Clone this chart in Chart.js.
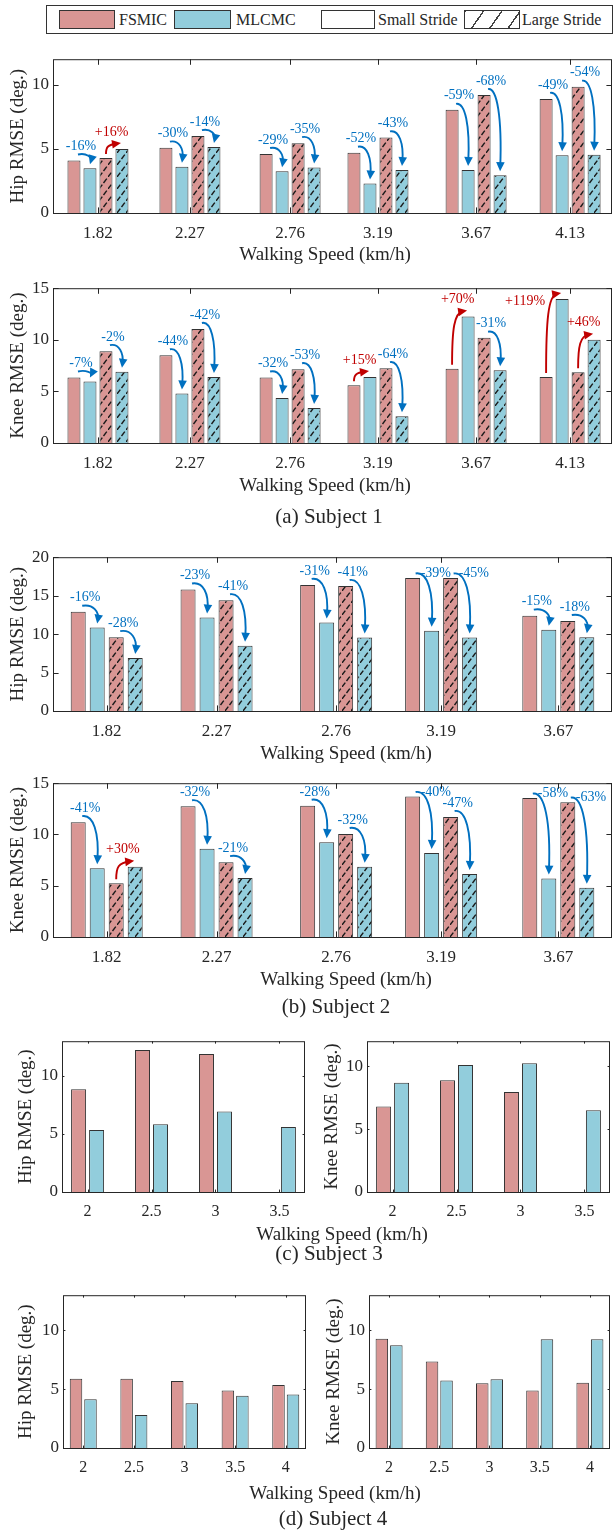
<!DOCTYPE html>
<html>
<head>
<meta charset="utf-8">
<script src="https://cdn.jsdelivr.net/npm/chart.js@4.4.0/dist/chart.umd.min.js"></script>
<style>
  body { margin: 0; background: #fff; }
  #fig { position: relative; width: 613px; height: 1531px; overflow: hidden;
         font-family: "Liberation Serif", "Times New Roman", serif; color: #262626; }
  #fig canvas { position: absolute; }
  .txt { position: absolute; white-space: nowrap; line-height: 1; transform: translate(-50%, -50%); }
  #legend { position: absolute; left: 46px; top: 5px; width: 565px; height: 27px; border: 1px solid #333; }
  .sw { position: absolute; top: 4px; height: 17px; border: 1px solid #333; }
  .lt { position: absolute; top: 4px; font-size: 16px; line-height: 19px; }
</style>
</head>
<body>
<div id="fig">
  <div id="legend">
    <div class="sw" style="left:12px;width:54px;background:#D99694"></div>
    <div class="lt" style="left:72px">FSMIC</div>
    <div class="sw" style="left:127px;width:55px;background:#92CDDC"></div>
    <div class="lt" style="left:189px">MLCMC</div>
    <div class="sw" style="left:274px;width:52px;background:#fff"></div>
    <div class="lt" style="left:331px">Small Stride</div>
    <div class="sw" style="left:417px;width:54px;background:repeating-linear-gradient(-55deg,#fff 0,#fff 8px,#444 8px,#444 9.5px,#fff 9.5px,#fff 15px)"></div>
    <div class="lt" style="left:475px">Large Stride</div>
  </div>
</div>
<script>
// ---- data ----
const s1Speeds = [1.82, 2.27, 2.76, 3.19, 3.67, 4.13];
const s1SpeedLabels = ['1.82', '2.27', '2.76', '3.19', '3.67', '4.13'];

const s1HipFsmicSmall = [4.1, 5.1, 4.6, 4.7, 8.05, 8.9];
const s1HipMlcmcSmall = [3.5, 3.6, 3.25, 2.3, 3.35, 4.5];
const s1HipFsmicLarge = [4.3, 6.0, 5.45, 5.9, 9.2, 9.85];
const s1HipMlcmcLarge = [5.0, 5.15, 3.55, 3.35, 2.95, 4.55];
const s1HipSmallChange = ['-16%', '-30%', '-29%', '-52%', '-59%', '-49%'];
const s1HipLargeChange = ['+16%', '-14%', '-35%', '-43%', '-68%', '-54%'];

const s1KneeFsmicSmall = [6.35, 8.5, 6.35, 5.6, 7.2, 6.4];
const s1KneeMlcmcSmall = [5.95, 4.8, 4.35, 6.4, 12.25, 13.95];
const s1KneeFsmicLarge = [8.9, 11.05, 7.15, 7.25, 10.2, 6.85];
const s1KneeMlcmcLarge = [6.9, 6.4, 3.4, 2.6, 7.05, 10.0];
const s1KneeSmallChange = ['-7%', '-44%', '-32%', '+15%', '+70%', '+119%'];
const s1KneeLargeChange = ['-2%', '-42%', '-53%', '-64%', '-31%', '+46%'];

const s2Speeds = [1.82, 2.27, 2.76, 3.19, 3.67];
const s2SpeedLabels = ['1.82', '2.27', '2.76', '3.19', '3.67'];

const s2HipFsmicSmall = [12.9, 15.8, 16.4, 17.3, 12.4];
const s2HipMlcmcSmall = [10.85, 12.15, 11.5, 10.45, 10.55];
const s2HipFsmicLarge = [9.6, 14.4, 16.25, 17.3, 11.7];
const s2HipMlcmcLarge = [6.9, 8.5, 9.55, 9.55, 9.6];
const s2HipSmallChange = ['-16%', '-23%', '-31%', '-39%', '-15%'];
const s2HipLargeChange = ['-28%', '-41%', '-41%', '-45%', '-18%'];

const s2KneeFsmicSmall = [11.2, 12.75, 12.8, 13.7, 13.55];
const s2KneeMlcmcSmall = [6.7, 8.6, 9.25, 8.2, 5.7];
const s2KneeFsmicLarge = [5.25, 7.3, 10.05, 11.7, 13.15];
const s2KneeMlcmcLarge = [6.85, 5.75, 6.85, 6.15, 4.8];
const s2KneeSmallChange = ['-41%', '-32%', '-28%', '-40%', '-58%'];
const s2KneeLargeChange = ['+30%', '-21%', '-32%', '-47%', '-63%'];

const s3Speeds = [2, 2.5, 3, 3.5];
const s3SpeedLabels = ['2', '2.5', '3', '3.5'];
const s3HipFsmic = [8.85, 12.25, 11.9, null];
const s3HipMlcmc = [5.35, 5.85, 6.95, 5.6];
const s3KneeFsmic = [6.8, 8.9, 7.95, null];
const s3KneeMlcmc = [8.7, 10.1, 10.25, 6.5];

const s4Speeds = [2, 2.5, 3, 3.5, 4];
const s4SpeedLabels = ['2', '2.5', '3', '3.5', '4'];
const s4HipFsmic = [5.9, 5.9, 5.7, 4.9, 5.35];
const s4HipMlcmc = [4.15, 2.8, 3.8, 4.45, 4.55];
const s4KneeFsmic = [9.3, 7.35, 5.5, 4.9, 5.55];
const s4KneeMlcmc = [8.75, 5.75, 5.85, 9.25, 9.25];

// ---- styling ----
const SERIF = '"Liberation Serif", "Times New Roman", serif';
const INK = '#262626';
const PINK = '#D99694';
const CYAN = '#92CDDC';
const BLUE = '#0070C0';
const RED = '#C00000';
const fig = document.getElementById('fig');

function hatch(fill) {
  const c = document.createElement('canvas');
  c.width = 9; c.height = 12;
  const g = c.getContext('2d');
  g.fillStyle = fill;
  g.fillRect(0, 0, 9, 12);
  g.strokeStyle = '#1a1a1a';
  g.lineWidth = 1.4;
  g.setLineDash([5.5, 2]);
  g.beginPath();
  g.moveTo(0, 12);
  g.lineTo(9, 0);
  g.stroke();
  return g.createPattern(c, 'repeat');
}
const PINK_HATCH = hatch(PINK);
const CYAN_HATCH = hatch(CYAN);

function addText(txt, x, y, size) {
  const d = document.createElement('div');
  d.className = 'txt';
  d.textContent = txt;
  d.style.left = x + 'px';
  d.style.top = y + 'px';
  d.style.fontSize = size + 'px';
  fig.appendChild(d);
}

// curved arrow from the top of bar a to the top of bar b, with its percentage
function drawChange(ctx, area, a, b, txt) {
  const up = txt[0] === '+';
  const col = up ? RED : BLUE;
  ctx.save();
  ctx.font = '14px ' + SERIF;
  const tw = ctx.measureText(txt).width;
  let S, E, c1, c2, lx, ly;
  if (!up) {
    S = { x: a.x + 4, y: a.y - 6 };
    lx = a.x + 7;
    ly = a.y - 14;
    if (a.y - area.top < 21) {
      // no room above the bar: label moves right, arrow starts at its left
      ly = a.y - 4.5;
      lx = a.x + 8 + tw / 2;
      S = { x: a.x + 3, y: ly };
    } else if (ly < area.top + 9) {
      ly = area.top + 9;
    }
    E = { x: b.x, y: b.y - 4 };
    c1 = { x: S.x + (E.x - S.x) * 0.75, y: S.y - 2 };
    c2 = { x: E.x + 2, y: S.y + (E.y - S.y) * 0.35 };
  } else {
    S = { x: a.x, y: a.y - 4 };
    E = { x: b.x - 1, y: b.y - 6 };
    c1 = { x: S.x, y: S.y - (S.y - E.y) * 0.65 };
    c2 = { x: S.x + 2, y: E.y + 2 };
    lx = a.x + (b.x - a.x) * 0.35;
    ly = E.y - 11;
    if (ly < area.top + 9) {
      lx = a.x - 21;
      ly = E.y + 8;
    }
  }
  const dx = E.x - c2.x, dy = E.y - c2.y;
  const L = Math.hypot(dx, dy) || 1;
  const ux = dx / L, uy = dy / L;
  const hl = 9, hw = 4.3;
  const bx = E.x - ux * hl, by = E.y - uy * hl;
  ctx.strokeStyle = col;
  ctx.lineWidth = 1.9;
  ctx.beginPath();
  ctx.moveTo(S.x, S.y);
  ctx.bezierCurveTo(c1.x, c1.y, c2.x, c2.y, E.x - ux * 4, E.y - uy * 4);
  ctx.stroke();
  ctx.fillStyle = col;
  ctx.beginPath();
  ctx.moveTo(E.x, E.y);
  ctx.lineTo(bx - uy * hw, by + ux * hw);
  ctx.lineTo(bx + uy * hw, by - ux * hw);
  ctx.closePath();
  ctx.fill();
  ctx.textAlign = 'center';
  ctx.textBaseline = 'middle';
  ctx.fillText(txt, lx, ly);
  ctx.restore();
}

function drawPanel(p) {
  const W = p.canvasRight - p.canvasLeft;
  const padTop = 4, xAxisH = 34;
  const H = (p.bottom - p.top) + padTop + xAxisH;
  const cv = document.createElement('canvas');
  cv.width = W;
  cv.height = H;
  cv.style.left = p.canvasLeft + 'px';
  cv.style.top = (p.top - padTop) + 'px';
  cv.style.width = W + 'px';
  cv.style.height = H + 'px';
  fig.appendChild(cv);

  const framePlugin = {
    id: 'frame',
    afterDatasetsDraw(chart) {
      if (!p.changes) return;
      const area = chart.chartArea;
      p.changes.forEach((labels, k) => {
        const fromMeta = chart.getDatasetMeta(2 * k);
        const toMeta = chart.getDatasetMeta(2 * k + 1);
        labels.forEach((txt, i) => drawChange(chart.ctx, area, fromMeta.data[i], toMeta.data[i], txt));
      });
    },
    afterDraw(chart) {
      const { ctx, chartArea: a, scales: { x, y } } = chart;
      const len = Math.max(a.right - a.left, a.bottom - a.top) * 0.01;
      ctx.save();
      ctx.strokeStyle = INK;
      ctx.lineWidth = 1;
      ctx.strokeRect(a.left + 0.5, a.top + 0.5, a.right - a.left - 1, a.bottom - a.top);
      ctx.beginPath();
      p.speeds.forEach(v => {
        const px = Math.round(x.getPixelForValue(v)) + 0.5;
        ctx.moveTo(px, a.top); ctx.lineTo(px, a.top + len);
        ctx.moveTo(px, a.bottom); ctx.lineTo(px, a.bottom - len);
      });
      p.yTicks.forEach(v => {
        const py = Math.round(y.getPixelForValue(v)) + 0.5;
        ctx.moveTo(a.left, py); ctx.lineTo(a.left + len, py);
        ctx.moveTo(a.right, py); ctx.lineTo(a.right - len, py);
      });
      ctx.stroke();
      ctx.restore();
    }
  };

  const chart = new Chart(cv, {
    type: 'bar',
    data: {
      datasets: p.series.map(s => ({
        label: s.label,
        data: p.speeds.map((x, i) => ({ x, y: s.values[i] })),
        backgroundColor: s.fill,
        borderColor: '#333',
        borderWidth: 1
      }))
    },
    options: {
      responsive: false,
      animation: false,
      devicePixelRatio: 1,
      layout: { padding: { top: padTop, right: W - (p.right - p.canvasLeft), left: 0, bottom: 0 } },
      plugins: { legend: { display: false }, tooltip: { enabled: false } },
      scales: {
        x: {
          type: 'linear',
          min: p.xMin,
          max: p.xMax,
          offset: false,
          grid: { display: false, drawTicks: false },
          border: { display: false },
          afterBuildTicks: s => { s.ticks = p.speeds.map(v => ({ value: v })); },
          afterFit: s => { s.height = xAxisH; },
          ticks: {
            autoSkip: false,
            maxRotation: 0,
            padding: 10,
            color: INK,
            font: { family: SERIF, size: p.xTickSize },
            callback: (v, i) => p.speedLabels[i]
          }
        },
        y: {
          min: 0,
          max: p.yMax,
          grid: { display: false, drawTicks: false },
          border: { display: false },
          afterBuildTicks: s => { s.ticks = p.yTicks.map(v => ({ value: v })); },
          afterFit: s => { s.width = p.left - p.canvasLeft; },
          ticks: { padding: 4, color: INK, font: { family: SERIF, size: 17 } },
          title: {
            display: true,
            text: p.yTitle,
            color: INK,
            font: { family: SERIF, size: 19 },
            padding: { top: p.yTitlePad, bottom: 0 }
          }
        }
      }
    },
    plugins: [framePlugin]
  });

  // bar width / spacing as in the figure: fixed pixel pitch inside each group
  const xs = chart.scales.x;
  const px = p.speeds.map(v => xs.getPixelForValue(v));
  let minGap = xs.width;
  for (let i = 1; i < px.length; i++) minGap = Math.min(minGap, px[i] - px[i - 1]);
  chart.data.datasets.forEach(d => {
    d.categoryPercentage = p.series.length * p.barPitch / minGap;
    d.barPercentage = p.barWidth / p.barPitch;
  });
  chart.update('none');
  return chart;
}

function fourSeries(fs, ms, fl, ml) {
  return [
    { label: 'FSMIC Small Stride', values: fs, fill: PINK },
    { label: 'MLCMC Small Stride', values: ms, fill: CYAN },
    { label: 'FSMIC Large Stride', values: fl, fill: PINK_HATCH },
    { label: 'MLCMC Large Stride', values: ml, fill: CYAN_HATCH }
  ];
}
function twoSeries(f, m) {
  return [
    { label: 'FSMIC', values: f, fill: PINK },
    { label: 'MLCMC', values: m, fill: CYAN }
  ];
}

const wide = { canvasLeft: 0, canvasRight: 613, left: 53, right: 612, xTickSize: 17, yTitlePad: 6.5, barWidth: 13, barPitch: 16 };

// (a) Subject 1
drawPanel(Object.assign({}, wide, {
  top: 49, bottom: 213, yMax: 12, yTicks: [0, 5, 10], xMin: 1.6, xMax: 4.335,
  speeds: s1Speeds, speedLabels: s1SpeedLabels, yTitle: 'Hip RMSE (deg.)',
  series: fourSeries(s1HipFsmicSmall, s1HipMlcmcSmall, s1HipFsmicLarge, s1HipMlcmcLarge),
  changes: [s1HipSmallChange, s1HipLargeChange]
}));
drawPanel(Object.assign({}, wide, {
  top: 278, bottom: 443, yMax: 15, yTicks: [0, 5, 10, 15], xMin: 1.6, xMax: 4.335,
  speeds: s1Speeds, speedLabels: s1SpeedLabels, yTitle: 'Knee RMSE (deg.)',
  series: fourSeries(s1KneeFsmicSmall, s1KneeMlcmcSmall, s1KneeFsmicLarge, s1KneeMlcmcLarge),
  changes: [s1KneeSmallChange, s1KneeLargeChange]
}));

// (b) Subject 2
const wide2 = Object.assign({}, wide, { barWidth: 15, barPitch: 19, xMin: 1.6, xMax: 3.89 });
drawPanel(Object.assign({}, wide2, {
  top: 547, bottom: 711, yMax: 20, yTicks: [0, 5, 10, 15, 20],
  speeds: s2Speeds, speedLabels: s2SpeedLabels, yTitle: 'Hip RMSE (deg.)',
  series: fourSeries(s2HipFsmicSmall, s2HipMlcmcSmall, s2HipFsmicLarge, s2HipMlcmcLarge),
  changes: [s2HipSmallChange, s2HipLargeChange]
}));
drawPanel(Object.assign({}, wide2, {
  top: 773, bottom: 937, yMax: 15, yTicks: [0, 5, 10, 15],
  speeds: s2Speeds, speedLabels: s2SpeedLabels, yTitle: 'Knee RMSE (deg.)',
  series: fourSeries(s2KneeFsmicSmall, s2KneeMlcmcSmall, s2KneeFsmicLarge, s2KneeMlcmcLarge),
  changes: [s2KneeSmallChange, s2KneeLargeChange]
}));

// (c) Subject 3
drawPanel({
  canvasLeft: 0, canvasRight: 310, left: 62, right: 305, top: 1031, bottom: 1192,
  yMax: 13, yTicks: [0, 5, 10], xMin: 1.8, xMax: 3.7, xTickSize: 16, yTitlePad: 14.5,
  barWidth: 15, barPitch: 18, speeds: s3Speeds, speedLabels: s3SpeedLabels,
  yTitle: 'Hip RMSE (deg.)', series: twoSeries(s3HipFsmic, s3HipMlcmc), changes: null
});
drawPanel({
  canvasLeft: 310, canvasRight: 613, left: 367, right: 610, top: 1031, bottom: 1192,
  yMax: 12, yTicks: [0, 5, 10], xMin: 1.8, xMax: 3.7, xTickSize: 16, yTitlePad: 10.5,
  barWidth: 15, barPitch: 18, speeds: s3Speeds, speedLabels: s3SpeedLabels,
  yTitle: 'Knee RMSE (deg.)', series: twoSeries(s3KneeFsmic, s3KneeMlcmc), changes: null
});

// (d) Subject 4
drawPanel({
  canvasLeft: 0, canvasRight: 310, left: 63, right: 306, top: 1285, bottom: 1448,
  yMax: 13, yTicks: [0, 5, 10], xMin: 1.8, xMax: 4.2, xTickSize: 16, yTitlePad: 14.5,
  barWidth: 12.5, barPitch: 14.5, speeds: s4Speeds, speedLabels: s4SpeedLabels,
  yTitle: 'Hip RMSE (deg.)', series: twoSeries(s4HipFsmic, s4HipMlcmc), changes: null
});
drawPanel({
  canvasLeft: 310, canvasRight: 613, left: 369, right: 610, top: 1285, bottom: 1448,
  yMax: 13, yTicks: [0, 5, 10], xMin: 1.8, xMax: 4.2, xTickSize: 16, yTitlePad: 12.5,
  barWidth: 12.5, barPitch: 14.5, speeds: s4Speeds, speedLabels: s4SpeedLabels,
  yTitle: 'Knee RMSE (deg.)', series: twoSeries(s4KneeFsmic, s4KneeMlcmc), changes: null
});

// axis titles and captions
addText('Walking Speed (km/h)', 325, 253, 19);
addText('Walking Speed (km/h)', 325, 484, 19);
addText('(a) Subject 1', 329, 516, 21);
addText('Walking Speed (km/h)', 346, 752, 19);
addText('Walking Speed (km/h)', 346, 978, 19);
addText('(b) Subject 2', 336, 1006, 21);
addText('Walking Speed (km/h)', 342, 1233, 19);
addText('(c) Subject 3', 329, 1253, 21);
addText('Walking Speed (km/h)', 335, 1492, 19);
addText('(d) Subject 4', 333, 1518, 21);
</script>
</body>
</html>
